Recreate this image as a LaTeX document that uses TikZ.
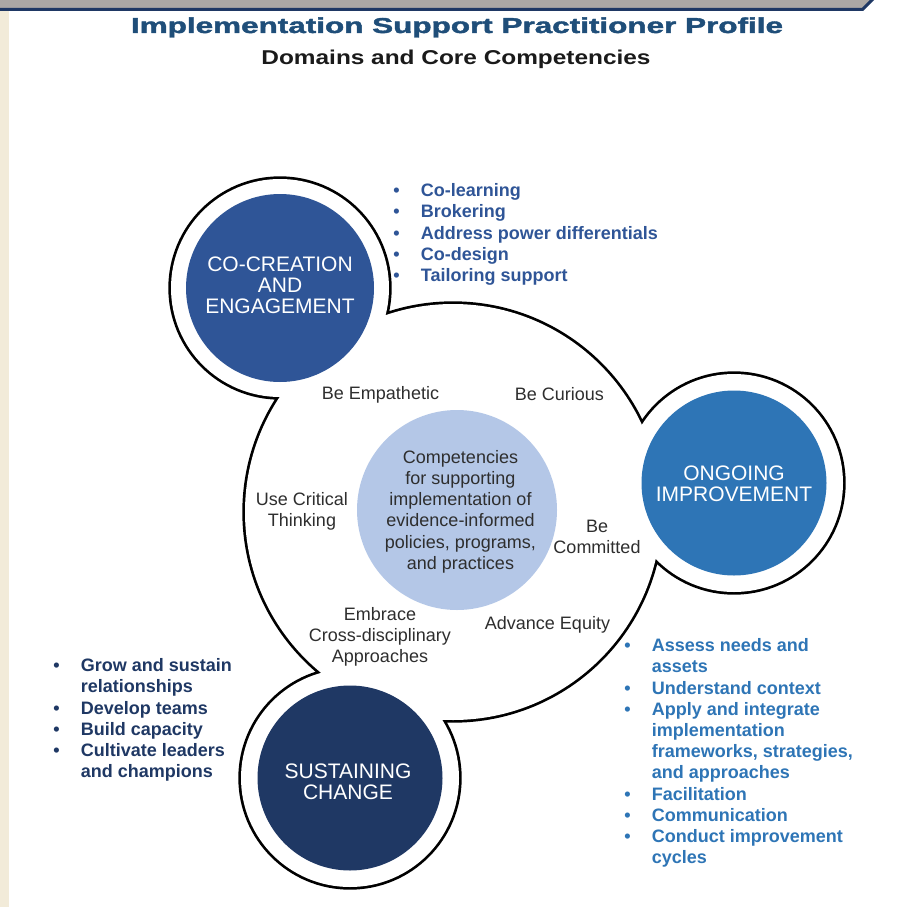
\documentclass[tikz,border=0pt]{standalone}
\usepackage{fontspec}
\setmainfont{Liberation Sans}
\newfontfamily\heavyfont[FakeBold=1.6]{Liberation Sans Bold}
\definecolor{beige}{HTML}{F2EBD9}
\definecolor{bargray}{HTML}{ACA8A5}
\definecolor{navy}{HTML}{1F3864}
\definecolor{midblue}{HTML}{2F5597}
\definecolor{brightblue}{HTML}{2E75B6}
\definecolor{paleblue}{HTML}{B4C7E7}
\definecolor{titleblue}{HTML}{1F4E79}
\definecolor{txtgray}{HTML}{2E2E2E}
\definecolor{subblack}{HTML}{1A1A1A}
\newcommand\bulitem{\makebox[27.5pt][l]{\textbullet}}
\newcommand\bulcont{\hspace*{27.5pt}}
\begin{document}
\begin{tikzpicture}[x=1pt,y=-1pt,
  lbl/.style={inner sep=0pt, text=txtgray, font=\fontsize{18}{21.2}\selectfont, anchor=base},
  dom/.style={inner sep=0pt, text=white, font=\fontsize{21}{21}\selectfont, anchor=base},
  blist/.style={inner sep=0pt, font=\fontsize{18}{21.2}\selectfont\bfseries, anchor=base west},
  ringline/.style={draw=black, line width=5.4pt}]
\useasboundingbox (0,0) rectangle (897,907);
\fill[white] (0,0) rectangle (897,907);
% frame decorations
\fill[beige] (0,10) rectangle (9,907);
\fill[bargray] (0,-1) -- (873,-1) -- (862.5,9.5) -- (0,9.5) -- cycle;
\draw[navy, line width=3pt] (0,9.5) -- (862.5,9.5) -- (873.5,-1.5);
% title
\node[inner sep=0pt, anchor=base, text=titleblue, font=\fontsize{21.5}{24}\heavyfont] (title) at (457,33)
  {\resizebox{652pt}{!}{\scalebox{1.46}[1]{Implementation Support Practitioner Profile}}};
\node[inner sep=0pt, anchor=base, text=subblack, font=\fontsize{20}{24}\selectfont\bfseries] (subtitle) at (456,64.3)
  {\scalebox{1.22}[1]{Domains and Core Competencies}};
% outline of the union of circles
\path[ringline] (453,512) circle[radius=208pt] (280,288) circle[radius=109pt]
  (734,483) circle[radius=109pt] (350,778) circle[radius=109pt];
\fill[white] (453,512) circle[radius=208pt] (280,288) circle[radius=109pt]
  (734,483) circle[radius=109pt] (350,778) circle[radius=109pt];
% filled discs
\fill[midblue] (280,288) circle[radius=94pt];
\fill[brightblue] (734,483) circle[radius=92.5pt];
\fill[navy] (350,778) circle[radius=92.5pt];
\fill[paleblue] (457,510) circle[radius=100pt];
% domain names
\node[dom] (cocreation) at (280,271.7) {\begin{tabular}[t]{@{}c@{}}CO-CREATION\\AND\\ENGAGEMENT\end{tabular}};
\node[dom] (ongoing) at (734,480.7) {\begin{tabular}[t]{@{}c@{}}ONGOING\\IMPROVEMENT\end{tabular}};
\node[dom] (sustaining) at (348,778.3) {\begin{tabular}[t]{@{}c@{}}SUSTAINING\\CHANGE\end{tabular}};
% inner labels
\node[lbl] (empathetic) at (380.5,399.3) {Be Empathetic};
\node[lbl] (curious) at (559.5,400.7) {Be Curious};
\node[lbl] (critical) at (302,505) {\begin{tabular}[t]{@{}c@{}}Use Critical\\Thinking\end{tabular}};
\node[lbl] (core) at (460.5,463.3) {\begin{tabular}[t]{@{}c@{}}Competencies\\for supporting\\implementation of\\evidence-informed\\policies, programs,\\and practices\end{tabular}};
\node[lbl] (committed) at (597,532.7) {\begin{tabular}[t]{@{}c@{}}Be\\Committed\end{tabular}};
\node[lbl] (embrace) at (380,620) {\begin{tabular}[t]{@{}c@{}}Embrace\\Cross-disciplinary\\Approaches\end{tabular}};
\node[lbl] (equity) at (547.5,629.3) {Advance Equity};
% bullet lists
\node[blist, text=midblue] (listtop) at (393.2,196.7) {\begin{tabular}[t]{@{}l@{}}
\bulitem Co-learning\\
\bulitem Brokering\\
\bulitem Address power differentials\\
\bulitem Co-design\\
\bulitem Tailoring support\end{tabular}};
\node[blist, text=brightblue] (listright) at (624.2,651.7) {\begin{tabular}[t]{@{}l@{}}
\bulitem Assess needs and\\
\bulcont assets\\
\bulitem Understand context\\
\bulitem Apply and integrate\\
\bulcont implementation\\
\bulcont frameworks, strategies,\\
\bulcont and approaches\\
\bulitem Facilitation\\
\bulitem Communication\\
\bulitem Conduct improvement\\
\bulcont cycles\end{tabular}};
\node[blist, text=navy] (listleft) at (53.2,671.7) {\begin{tabular}[t]{@{}l@{}}
\bulitem Grow and sustain\\
\bulcont relationships\\
\bulitem Develop teams\\
\bulitem Build capacity\\
\bulitem Cultivate leaders\\
\bulcont and champions\end{tabular}};
\end{tikzpicture}
\end{document}
